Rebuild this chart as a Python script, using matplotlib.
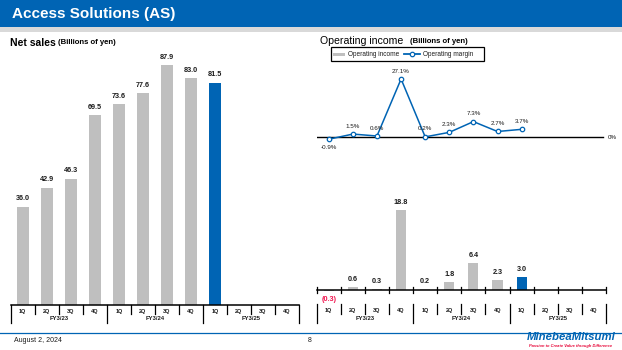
import matplotlib
matplotlib.use("Agg")
import matplotlib.pyplot as plt
from matplotlib.patches import Rectangle
from matplotlib.transforms import blended_transform_factory

plt.rcParams['font.family'] = ['Liberation Sans', 'DejaVu Sans']

# data
quarters = ['1Q', '2Q', '3Q', '4Q'] * 3
years = ['FY3/23', 'FY3/24', 'FY3/25']
net_sales = [36.0, 42.9, 46.3, 69.5, 73.6, 77.6, 87.9, 83.0, 81.5]
op_income = [-0.3, 0.6, 0.3, 18.8, 0.2, 1.8, 6.4, 2.3, 3.0]
op_margin = [-0.9, 1.5, 0.6, 27.1, 0.2, 2.3, 7.3, 2.7, 3.7]

BLUE = '#0064B4'
GRAY = '#BFBFBF'
TXT = '#1C1C1C'
W, H = 622, 350

fig = plt.figure(figsize=(W / 100, H / 100), dpi=100)

# decoration layer in pixel coords (y downwards)
deco = fig.add_axes([0, 0, 1, 1], zorder=-1)
deco.set_xlim(0, W)
deco.set_ylim(H, 0)
deco.axis('off')


def px_axes(x0, y0, x1, y1):
    return fig.add_axes([x0 / W, 1 - y1 / H, (x1 - x0) / W, (y1 - y0) / H])


# header
deco.add_patch(Rectangle((0, 0), W, 27, color=BLUE, lw=0))
deco.add_patch(Rectangle((0, 27), W, 5, color='#D9D9D9', lw=0))
deco.text(12, 14, 'Access Solutions (AS)', color='white', fontsize=11,
          fontweight='bold', va='center')

# footer
deco.plot([0, W], [332.5, 332.5], color=BLUE, lw=0.9)
deco.text(14, 341, 'August 2, 2024', fontsize=5, va='center', color=TXT)
deco.text(310, 341, '8', fontsize=5, va='center', ha='center', color=TXT)
deco.text(571, 337.5, 'MinebeaMitsumi', fontsize=8.2, fontweight='bold',
          fontstyle='italic', color=BLUE, ha='center', va='center')
deco.text(571, 345.5, 'Passion to Create Value through Difference', fontsize=2.9,
          fontweight='bold', fontstyle='italic', color='#E60033',
          ha='center', va='center')

# titles
deco.text(10, 42.5, 'Net sales', fontsize=7.5, fontweight='bold', va='center')
deco.text(58, 43, '(Billions of yen)', fontsize=5.6, fontweight='bold', va='center')
deco.text(320, 41, 'Operating income', fontsize=7.6, va='center')
deco.text(410, 41.5, '(Billions of yen)', fontsize=5.6, fontweight='bold', va='center')

# legend box
deco.add_patch(Rectangle((330.7, 47.3), 153.3, 13.7, fill=False, ec='black', lw=0.9))
deco.add_patch(Rectangle((333, 53.2), 12, 2.6, color=GRAY, lw=0))
deco.text(348, 54.3, 'Operating income', fontsize=4.7, va='center', color=TXT)
deco.plot([404, 420], [54.3, 54.3], color=BLUE, lw=1.3)
deco.plot([412], [54.3], marker='o', ms=3.2, mfc='white', mec=BLUE, mew=0.9)
deco.text(423, 54.3, 'Operating margin', fontsize=4.7, va='center', color=TXT)

n = len(quarters)
xs = list(range(len(net_sales)))


def category_axis(ax, y_line, y_q, y_fy, y_sep, y_grp, y_sep_top=None, cross=False):
    tr = blended_transform_factory(ax.transData, deco.transData)
    ax.plot([-0.5, n - 0.5], [y_line, y_line], color='black', lw=1.1,
            transform=tr, clip_on=False)
    top = y_line if y_sep_top is None else y_sep_top
    for b in range(n + 1):
        xb = b - 0.5
        bottom = y_grp if b % 4 == 0 else y_sep
        ax.plot([xb, xb], [top, bottom], color='black', lw=0.9,
                transform=tr, clip_on=False)
        if cross:
            ax.plot([xb, xb], [y_line - 3, y_line + 3], color='black', lw=0.9,
                    transform=tr, clip_on=False)
    for i, q in enumerate(quarters):
        ax.text(i, y_q, q, transform=tr, ha='center', va='center',
                fontsize=4, fontweight='bold', color=TXT)
    for g, fy in enumerate(years):
        ax.text(g * 4 + 1.5, y_fy, fy, transform=tr, ha='center', va='center',
                fontsize=4.2, fontweight='bold', color=TXT)


# net sales
ax1 = px_axes(10.7, 55, 299, 305)
colors = [GRAY] * (len(net_sales) - 1) + [BLUE]
ax1.bar(xs, net_sales, width=0.5, color=colors)
for x, v in zip(xs, net_sales):
    ax1.annotate(f'{v:.1f}', (x, v), xytext=(0, 4.5), textcoords='offset pixels',
                 ha='center', va='bottom', fontsize=5.2, fontweight='bold', color=TXT)
ax1.set_xlim(-0.5, n - 0.5)
ax1.set_ylim(0, 250 / 2.73)
ax1.axis('off')
category_axis(ax1, 305, 311, 319, 313.5, 322.5)

# operating income bars
ax2 = px_axes(316.7, 170, 606, 295.1)
ax2.bar(xs, op_income, width=0.42, color=colors)
for x, v in zip(xs, op_income):
    if v < 0:
        ax2.annotate(f'({abs(v):.1f})', (x, 0), xytext=(0, -6), textcoords='offset pixels',
                     ha='center', va='top', fontsize=5.2, fontweight='bold', color='#F0134D')
    else:
        ax2.annotate(f'{v:.1f}', (x, v), xytext=(0, 4), textcoords='offset pixels',
                     ha='center', va='bottom', fontsize=5.2, fontweight='bold', color=TXT)
ax2.set_xlim(-0.5, n - 0.5)
ax2.set_ylim(-1.2, 125.1 / 4.25 - 1.2)
ax2.axis('off')
category_axis(ax2, 290, 310.7, 318.2, 314, 322.7, y_sep_top=304, cross=True)

# operating margin line
ax3 = px_axes(316.7, 65, 606, 155)
ax3.set_xlim(-0.5, n - 0.5)
ax3.set_ylim(-17.7 / 2.15, 72.3 / 2.15)
ax3.axis('off')
ax3.plot([-0.5, 11.38], [0, 0], color='black', lw=1)
ax3.plot(xs, op_margin, color=BLUE, lw=1.1, marker='o', ms=3.2,
         mfc='white', mec=BLUE, mew=0.9)
for x, v in zip(xs, op_margin):
    off = -8 if v < 0 else 8
    ax3.annotate(f'{v:.1f}%', (x, v), xytext=(0, off), textcoords='offset pixels',
                 ha='center', va='center', fontsize=4.5, color=TXT)
ax3.annotate('0%', (11.5, 0), xytext=(6, 0), textcoords='offset pixels',
             ha='center', va='center', fontsize=4.5, color=TXT)

fig.savefig('out.png', dpi=100)
